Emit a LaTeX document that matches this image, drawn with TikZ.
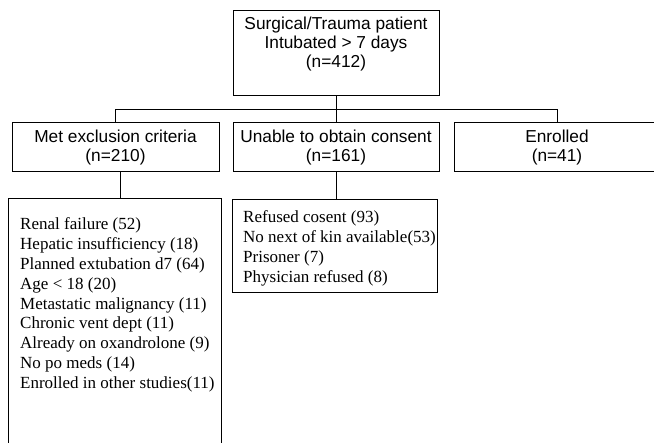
\documentclass[tikz,border=0pt]{standalone}
\usepackage{fontspec}
\setmainfont{Liberation Serif}
\newfontfamily\arialfont{Liberation Sans}
\tikzset{
  box/.style={draw, line width=1pt, inner sep=0pt, minimum width=206pt},
  stage/.style={box, minimum height=49pt, align=center, font=\arialfont\fontsize{17.3}{19}\selectfont},
  reasons/.style={align=left, inner sep=0pt, font=\fontsize{17}{19.8}\selectfont},
  link/.style={line width=1pt}
}
\begin{document}
\begin{tikzpicture}[x=1pt, y=-1pt]
\useasboundingbox (0,0) rectangle (654,443);
\node[box, minimum height=85pt, anchor=north] (trauma) at (336,10) {};
\node[anchor=base, align=center, inner sep=0pt, font=\arialfont\fontsize{17.3}{19}\selectfont] (traumatxt) at (336,68) {Surgical/Trauma patient\\Intubated > 7 days\\(n=412)};
\node[stage, minimum width=207pt] (excl) at (115.5,147.5) {Met exclusion criteria\\(n=210)};
\node[stage] (consent) at (336,147.5) {Unable to obtain consent\\(n=161)};
\node[stage] (enrolled) at (557,147.5) {Enrolled\\(n=41)};
\node[box, minimum width=213pt, minimum height=260pt, anchor=north] (medical) at (114.5,198) {};
\node[reasons, anchor=base west] (medicallist) at (20,388.4) {Renal failure (52)\\Hepatic insufficiency (18)\\Planned extubation d7 (64)\\Age < 18 (20)\\Metastatic malignancy (11)\\Chronic vent dept (11)\\Already on oxandrolone (9)\\No po meds (14)\\Enrolled in other studies(11)};
\node[box, minimum width=205pt, minimum height=93pt, anchor=north] (refusal) at (334.5,199) {};
\node[reasons, anchor=base west] (refusallist) at (243,282.4) {Refused cosent (93)\\No next of kin available(53)\\Prisoner (7)\\Physician refused (8)};
\coordinate (bar) at (336,110);
\draw[link] (trauma.south) -- (consent.north);
\draw[link] (excl.north) -- (excl.north |- bar) -- (enrolled.north |- bar) -- (enrolled.north);
\draw[link] ([xshift=5pt]excl.south) -- ([xshift=5pt]excl.south |- medical.north);
\draw[link] (consent.south) -- (consent.south |- refusal.north);
\end{tikzpicture}
\end{document}
